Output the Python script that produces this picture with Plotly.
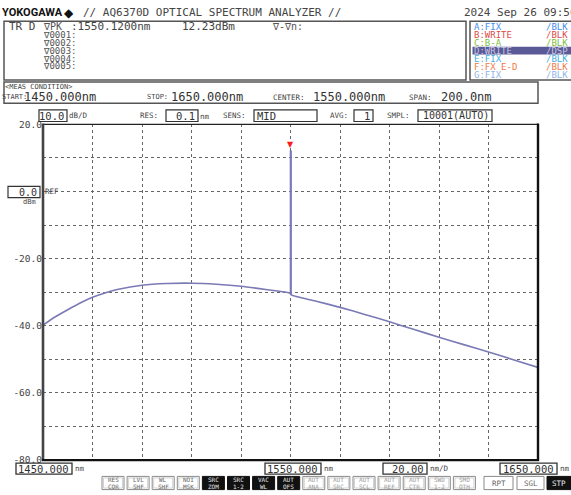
import plotly.graph_objects as go

# ---------------- data ----------------
trace_wl_nm = [1450, 1455, 1460, 1465, 1470, 1475, 1480, 1490, 1500, 1510, 1520, 1530, 1540, 1549.9,
               1550.3, 1560, 1570, 1580, 1590, 1600, 1610, 1620, 1630, 1640, 1650]
trace_dbm = [-39.8, -37.3, -35.2, -33.2, -31.5, -30.2, -29.2, -27.9, -27.4, -27.3, -27.6, -28.2, -29.2, -30.3,
             -30.8, -32.6, -34.5, -36.6, -38.8, -41.1, -43.4, -45.6, -47.8, -50.1, -52.4]
peak_wl_nm = [1550.12, 1550.12]
peak_dbm = [-30.6, 12.23]

y_ticks = [20, 10, 0, -10, -20, -30, -40, -50, -60, -70, -80]
y_tick_text = ["20.0", "", "", "", "-20.0", "", "-40.0", "", "-60.0", "", "-80.0"]
x_ticks = [1450, 1470, 1490, 1510, 1530, 1550, 1570, 1590, 1610, 1630, 1650]

marker_rows = ["\u22070001:", "\u22070002:", "\u22070003:", "\u22070004:", "\u22070005:"]
legend_rows = [("A:FIX", "/BLK", "#3f8ef0"), ("B:WRITE", "/BLK", "#e04a4a"), ("C:B-A", "/BLK", "#7cbf3c"),
               ("D:WRITE", "/DSP", "#c4c4e0"), ("E:FIX", "/BLK", "#3fb0e6"), ("F:FX E-D", "/BLK", "#f07a4a"),
               ("G:FIX", "/BLK", "#8fb4ea")]
buttons = [("RES", "COR"), ("LVL", "SHF"), ("WL", "SHF"), ("NOI", "MSK"), ("SRC", "ZOM"), ("SRC", "1-2"),
           ("VAC", "WL"), ("AUT", "OFS"), ("AUT", "ANA"), ("AUT", "SRC"), ("AUT", "SCL"), ("AUT", "REF"),
           ("AUT", "CTR"), ("SWD", "1-2"), ("SMO", "OTH")]
dark_buttons = {4, 5, 6, 7}

# ---------------- helpers ----------------
W, H = 571, 495
MONO = "DejaVu Sans Mono"
TRACE_COLOR = "#7a7ab6"
VS, VOFF = 0.9612, 9.6          # vertical scale/offset applied by the viewer
PLOT_TOP, PLOT_BOT = 126, 456


def R(y):
    """desired on-screen y for a screen-layout y"""
    if y <= PLOT_TOP:
        return 16 + (y - 10) * (PLOT_TOP - 16) / (PLOT_TOP - 10)
    if y <= PLOT_BOT:
        return y
    return PLOT_BOT + (y - PLOT_BOT) * 29.0 / 38.0


def px(x):
    return x / W


def py(y):
    return 1 - ((R(y) - VOFF) / VS) / H


shapes = []
annotations = []


def rect(x0, y0, x1, y1, color="#555", width=1.0, fill="rgba(0,0,0,0)"):
    shapes.append(dict(type="rect", xref="paper", yref="paper", x0=px(x0), x1=px(x1), y0=py(y1), y1=py(y0),
                       line=dict(color=color, width=width), fillcolor=fill, layer="above"))


def hline(x0, x1, y, color="#222", width=1.0):
    shapes.append(dict(type="line", xref="paper", yref="paper", x0=px(x0), x1=px(x1), y0=py(y), y1=py(y),
                       line=dict(color=color, width=width), layer="above"))


def vline(x, y0, y1, color="#222", width=1.0):
    shapes.append(dict(type="line", xref="paper", yref="paper", x0=px(x), x1=px(x), y0=py(y0), y1=py(y1),
                       line=dict(color=color, width=width), layer="above"))


def text(x, y, s, size=11, color="#333", anchor="left", family=MONO):
    annotations.append(dict(xref="paper", yref="paper", x=px(x), y=py(y), text=s, showarrow=False, xanchor=anchor,
                            yanchor="middle", font=dict(size=size, color=color, family=family), borderpad=0))


# ---------------- figure ----------------
fig = go.Figure()
fig.add_trace(go.Scatter(x=trace_wl_nm, y=trace_dbm, mode="lines",
                         line=dict(color=TRACE_COLOR, width=1.6, shape="spline", smoothing=0.6),
                         hoverinfo="skip", showlegend=False))
fig.add_trace(go.Scatter(x=peak_wl_nm, y=peak_dbm, mode="lines",
                         line=dict(color=TRACE_COLOR, width=2.2),
                         hoverinfo="skip", showlegend=False))

# peak marker
annotations.append(dict(xref="x", yref="y", x=peak_wl_nm[1], y=peak_dbm[1], text="\u25bc", showarrow=False,
                        xanchor="center", yanchor="bottom", font=dict(size=8, color="#ff1a1a", family="DejaVu Sans"),
                        borderpad=0))

# ---- title row ----
text(1, 10, "<b>YOKOGAWA</b>", size=11, color="#111", family="Roboto")
text(63, 10, "\u25c6", size=12, color="#111", family="DejaVu Sans")
text(82, 10, "// AQ6370D OPTICAL SPECTRUM ANALYZER //", size=11, color="#444")
text(463, 10, "2024 Sep 26 09:56", size=11, color="#444")

# ---- marker box ----
rect(4, 19, 466, 80, color="#555", width=1.5)
text(8, 25, "TR D", size=11, color="#444")
text(42, 25, "\u2207PK", size=10, color="#555")
text(70, 25, ":1550.1200nm", size=11, color="#444")
text(181, 25, "12.23dBm", size=11, color="#444")
text(271, 25, "\u2207-\u2207n:", size=10, color="#555")
for i, s in enumerate(marker_rows):
    text(42, 33.5 + i * 8.1, s, size=9, color="#555")

# ---- trace legend box ----
rect(470, 19, 580, 80, color="#555", width=1.5)
shapes.append(dict(type="rect", xref="paper", yref="paper", x0=px(472.5), x1=px(580), y0=py(53.5), y1=py(45.5),
                   line=dict(width=0), fillcolor="#5a5a96", layer="above"))
for i, (lab, mode, col) in enumerate(legend_rows):
    yy = 25 + i * 8.3
    text(473, yy, lab, size=9, color=col)
    text(545, yy, mode, size=9, color=col)

# ---- measurement condition box ----
rect(4, 82, 538, 104, color="#555", width=1.5)
text(4, 87.5, "&lt;MEAS CONDITION&gt;", size=7, color="#444")
text(1, 98, "START:", size=7, color="#444")
text(23, 98, "1450.000nm", size=12, color="#333")
text(146, 98, "STOP:", size=7, color="#444")
text(170, 98, "1650.000nm", size=12, color="#333")
text(272, 98, "CENTER:", size=7.5, color="#444")
text(312, 98, "1550.000nm", size=12, color="#333")
text(408, 98, "SPAN:", size=7.5, color="#444")
text(440, 98, "200.0nm", size=12, color="#333")

# ---- plot header row ----
HY = 117
rect(39, 111, 67, 123, color="#333", width=1.2)
text(65, HY, "10.0", size=10.5, color="#333", anchor="right")
text(68, HY, "dB/D", size=7.5, color="#444")
text(139, HY, "RES:", size=7.5, color="#444")
rect(166, 111, 198, 123, color="#333", width=1.2)
text(196, HY, "0.1", size=10.5, color="#333", anchor="right")
text(199, HY + 1, "nm", size=7.5, color="#444")
text(222, HY, "SENS:", size=7.5, color="#444")
rect(254, 111, 317, 123, color="#333", width=1.2)
text(256, HY, "MID", size=10.5, color="#333")
text(329, HY, "AVG:", size=7.5, color="#444")
rect(354, 111, 373, 123, color="#333", width=1.2)
text(371, HY, "1", size=10.5, color="#333", anchor="right")
text(386, HY, "SMPL:", size=7.5, color="#444")
rect(418, 111, 492, 123, color="#333", width=1.2)
text(490, HY, "10001(AUTO)", size=10, color="#333", anchor="right")

# ---- REF box ----
rect(8, 187, 40, 198, color="#333", width=1.2)
text(38, 192.5, "0.0", size=10, color="#333", anchor="right")
text(44, 192, "REF", size=7.5, color="#444")
text(22, 202, "dBm", size=7, color="#444")

# ---- plot frame ----
hline(43, 538, PLOT_TOP, color="#222", width=1.2)
vline(43, PLOT_TOP - 1, PLOT_BOT + 1, color="#444", width=2.6)
vline(538, PLOT_TOP - 1, PLOT_BOT + 1, color="#111", width=2.4)
hline(42, 539, PLOT_BOT, color="#111", width=2.4)

# ---- bottom x labels ----
for (bx0, bx1, val, unit, usz) in [(16, 72, "1450.000", "nm", 7.5), (265, 321, "1550.000", "nm", 7.5),
                                   (383, 427, "20.00", "nm/D", 7.5), (500, 557, "1650.000", "nm", 7.5)]:
    rect(bx0, 460, bx1, 474, color="#333", width=1.3)
    text(bx1 - 2, 467, val, size=10.5, color="#333", anchor="right")
    text(bx1 + 2, 467, unit, size=usz, color="#444")

# ---- buttons ----
BY0, BY1 = 477, 494
for i, (a, b) in enumerate(buttons):
    x0 = 102 + i * 25.1
    x1 = x0 + 22
    if i in dark_buttons:
        rect(x0, BY0, x1, BY1, color="#111", width=1, fill="#111")
        col = "#e8e8e8"
    else:
        rect(x0, BY0, x1, BY1, color="#8a8a8a", width=1, fill="#ffffff")
        rect(x0 + 1.5, BY0 + 2, x1 - 1.5, BY1 - 2, color="#c8c8c8", width=0.8)
        col = "#666" if i < 4 else "#9a9a9a"
    text((x0 + x1) / 2, 481.3, a, size=6, color=col, anchor="center")
    text((x0 + x1) / 2, 489.5, b, size=6, color=col, anchor="center")

rect(484, BY0, 513, BY1, color="#8a8a8a", width=1, fill="#ffffff")
text(498.5, 485.5, "RPT", size=7.5, color="#666", anchor="center")
rect(517, BY0, 544, BY1, color="#8a8a8a", width=1, fill="#ffffff")
text(530.5, 485.5, "SGL", size=7.5, color="#666", anchor="center")
rect(547, BY0, 571, BY1, color="#111", width=1, fill="#111")
text(559, 485.5, "STP", size=7.5, color="#eee", anchor="center")

fig.update_layout(
    width=W, height=H,
    margin=dict(l=0, r=0, t=0, b=0),
    paper_bgcolor="white", plot_bgcolor="white",
    showlegend=False,
    xaxis=dict(domain=[px(43), px(538)], range=[1450, 1650], tickvals=x_ticks, showticklabels=False,
               showgrid=True, gridcolor="#666", gridwidth=1, griddash="dot", zeroline=False, ticks="",
               showline=False, fixedrange=True),
    yaxis=dict(domain=[py(PLOT_BOT), py(PLOT_TOP)], range=[-80, 20], tickvals=y_ticks, ticktext=y_tick_text,
               showgrid=True, gridcolor="#666", gridwidth=1, griddash="dot", zeroline=False, ticks="",
               showline=False, tickfont=dict(family=MONO, size=9.5, color="#444"), fixedrange=True),
    shapes=shapes,
    annotations=annotations,
)

fig.write_html("out.html", config={"displayModeBar": False},
               post_script="document.body.style.margin='0';document.body.style.overflow='hidden';")
